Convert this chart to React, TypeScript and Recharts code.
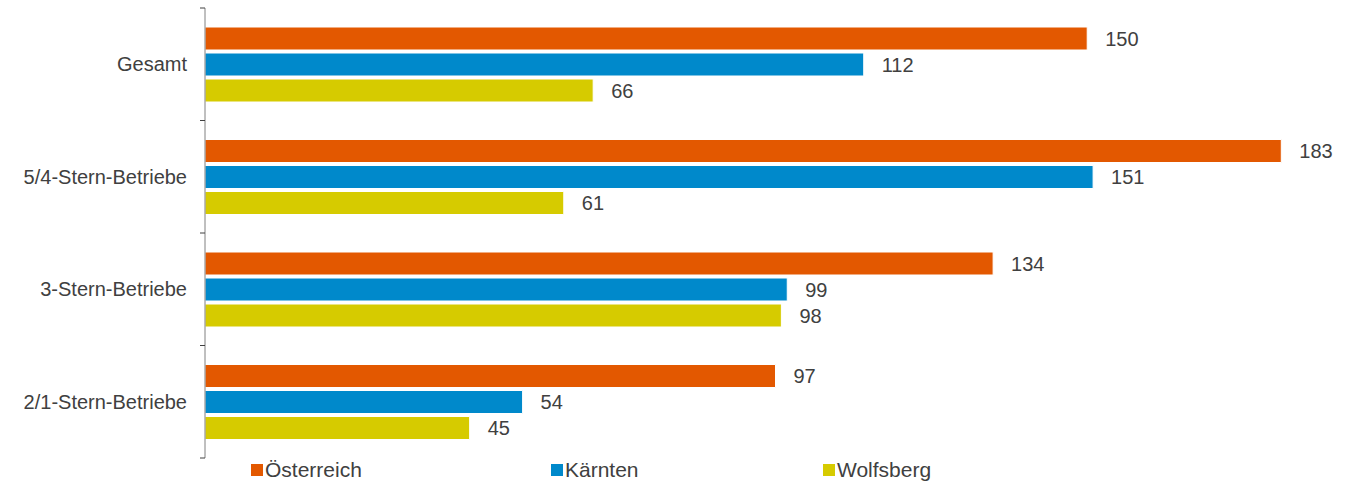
import React from 'react';
import { BarChart, Bar, XAxis, YAxis, Legend, LabelList } from 'recharts';

const categories = ['Gesamt', '5/4-Stern-Betriebe', '3-Stern-Betriebe', '2/1-Stern-Betriebe'];
const oesterreich = [150, 183, 134, 97];
const kaernten = [112, 151, 99, 54];
const wolfsberg = [66, 61, 98, 45];

const seriesNames = ['Österreich', 'Kärnten', 'Wolfsberg'];
const colors = ['#E35800', '#0089CB', '#D6CB00'];

const data = categories.map((name, i) => ({
  name,
  oe: oesterreich[i],
  ka: kaernten[i],
  wo: wolfsberg[i],
}));

const FONT = '"Liberation Sans", Arial, sans-serif';
const TEXT = '#404040';
const HALF_BAND = 450 / categories.length / 2;
const legendWidths = [300, 272, 200];

// tick x sits 8px left of the axis line (tickSize 6 + margin 2)
const CategoryTick = (props: any) => {
  const { x, y, payload, index } = props;
  const last = index === categories.length - 1;
  return (
    <g>
      <text x={x - 10} y={y} dy={7} textAnchor="end" fill={TEXT} fontSize={20} fontFamily={FONT}>
        {payload.value}
      </text>
      <line x1={x + 3} x2={x + 8} y1={y - HALF_BAND} y2={y - HALF_BAND} stroke="#404040" />
      {last && <line x1={x + 3} x2={x + 8} y1={y + HALF_BAND} y2={y + HALF_BAND} stroke="#404040" />}
    </g>
  );
};

const LegendContent = () => (
  <div style={{ display: 'flex', paddingLeft: 251, fontFamily: FONT, fontSize: 21, color: TEXT }}>
    {seriesNames.map((n, i) => (
      <div key={n} style={{ display: 'flex', alignItems: 'center', width: legendWidths[i] }}>
        <span style={{ width: 12, height: 12, background: colors[i], display: 'inline-block', marginRight: 2 }} />
        <span>{n}</span>
      </div>
    ))}
  </div>
);

const App = () => {
  const keys = ['oe', 'ka', 'wo'];
  return (
    <div style={{ position: 'absolute', left: 0, top: 0, background: '#fff' }}>
      <BarChart
        width={1346}
        height={483}
        data={data}
        layout="vertical"
        margin={{ top: 8, right: 0, bottom: 0, left: 0 }}
        barSize={23}
        barGap={3}
        barCategoryGap={18}
      >
        <XAxis type="number" hide domain={[0, 194]} />
        <YAxis
          type="category"
          dataKey="name"
          width={205}
          axisLine={{ stroke: '#808080' }}
          tickLine={false}
          tick={<CategoryTick />}
        />
        <Legend verticalAlign="bottom" height={25} content={<LegendContent />} />
        {keys.map((k, i) => (
          <Bar key={k} dataKey={k} name={seriesNames[i]} fill={colors[i]} stroke="#ffffff" strokeWidth={1} isAnimationActive={false}>
            <LabelList dataKey={k} position="right" offset={18} fill={TEXT} fontSize={20} fontFamily={FONT} />
          </Bar>
        ))}
      </BarChart>
    </div>
  );
};

export default App;
